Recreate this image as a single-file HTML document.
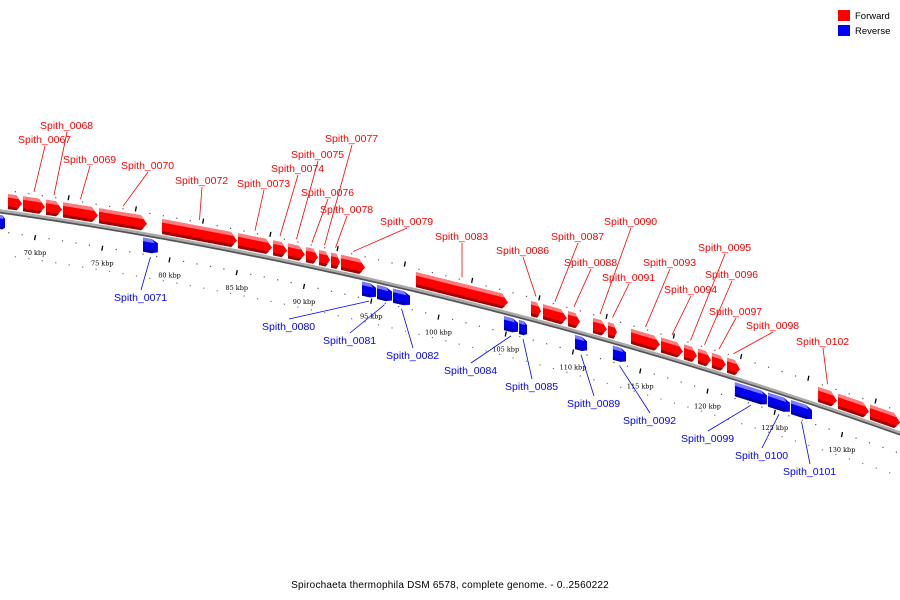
<!DOCTYPE html>
<html><head><meta charset="utf-8"><style>
html,body{margin:0;padding:0;background:#fff;}
svg{display:block;}
text{font-family:"Liberation Sans",sans-serif;}
</style></head><body>
<svg id="map" width="900" height="600" viewBox="0 0 900 600" xmlns="http://www.w3.org/2000/svg">
<g id="backbone-layer"></g>
<g id="ticks-layer"></g>
<g id="genes-layer"></g>
<g id="labels-layer"></g>
<g>
<rect x="838" y="10" width="12" height="11" fill="#ff0000"/>
<text x="855" y="19" font-size="9.5" fill="#000">Forward</text>
<rect x="838" y="25" width="12" height="11" fill="#0000ff"/>
<text x="855" y="34" font-size="9.5" fill="#000">Reverse</text>
</g>
<text x="450" y="588" font-size="10" text-anchor="middle" style="letter-spacing:0.2px">Spirochaeta thermophila DSM 6578, complete genome. - 0..2560222</text>
</svg>
<script>
// gene data (kbp)
const geneNames=["","Spith_0067","Spith_0068","Spith_0069","Spith_0070","Spith_0072","Spith_0073","Spith_0074","Spith_0075","Spith_0076","Spith_0077","Spith_0078","Spith_0079","Spith_0083","Spith_0086","Spith_0087","Spith_0088","Spith_0090","Spith_0091","Spith_0093","Spith_0094","Spith_0095","Spith_0096","Spith_0097","Spith_0098","Spith_0102","",""];
const geneStarts=[67.99,69.11,70.82,72.08,74.76,79.44,85.09,87.70,88.81,90.15,91.12,92.01,92.75,98.33,106.88,107.77,109.63,111.49,112.60,114.31,116.54,118.25,119.29,120.33,121.45,128.22,129.70,132.08];
const geneEnds=[69.03,70.74,72.01,74.68,78.33,85.02,87.62,88.74,90.07,91.04,91.93,92.68,94.54,105.17,107.62,109.55,110.52,112.53,113.27,116.47,118.18,119.22,120.26,121.37,122.42,129.63,132.01,134.32];
const fwdLabelX=[0,18,40,63,121,175,237,271,291,301,325,320,380,435,496,551,564,604,602,643,664,698,705,709,746,796,0,0];
const fwdLabelY=[0,139,125,159,165,180,183,168,154,192,138,209,221,236,250,236,262,221,277,262,289,247,274,311,325,341,0,0];
const revNames=["","Spith_0071","Spith_0080","Spith_0081","Spith_0082","Spith_0084","Spith_0085","Spith_0089","Spith_0092","Spith_0099","Spith_0100","Spith_0101"];
const revStarts=[67.30,78.03,94.31,95.43,96.62,104.87,105.99,110.15,112.97,122.04,124.50,126.21];
const revEnds=[67.77,79.14,95.35,96.54,97.88,105.91,106.58,111.04,113.94,124.42,126.13,127.77];
const revLabelX=[0,114,262,323,386,444,505,567,623,681,735,783];
const revLabelY=[0,297,326,340,355,370,386,403,420,438,455,471];
const tickLabels=[70,75,80,85,90,95,100,105,110,115,120,125,130];

const NS="http://www.w3.org/2000/svg";
function X(k){return 35+(k-70)*13.45;}
function Yb(x){return 210+0.1417*x+0.00011667*x*x;}
function mk(tag,attrs,parent){const e=document.createElementNS(NS,tag);for(const a in attrs)e.setAttribute(a,attrs[a]);parent.appendChild(e);return e;}
const bb=document.getElementById('backbone-layer');
let d1="",d2="";
for(let x=-5;x<=905;x+=5){d1+=(x<0?"M":"L")+x+","+(Yb(x)+0.5).toFixed(2);d2+=(x<0?"M":"L")+x+","+(Yb(x)+2.5).toFixed(2);}
const l2=mk('path',{d:d2,stroke:'#555',"stroke-width":2,fill:'none'},bb);


const l1=mk('path',{d:d1,stroke:'#aaa',"stroke-width":2.5,fill:'none'},bb);



const tk=document.getElementById('ticks-layer');
for(let k=66;k<=135;k++){
  const x=X(k);if(x<-5||x>905)continue;
  const yb=Yb(x);
  if(k%5===0){
    const t=mk('line',{x1:x+0.5,y1:yb+20,x2:x-0.5,y2:yb+25,stroke:'#000',"stroke-width":1.3},tk);
    
    
  } else {
    const t=mk('rect',{x:x,y:yb+21,width:1.2,height:1.2,fill:'#555'},tk);
    
    
  }
  const xa=X(k+0.5),ya=Yb(xa);
  if((k+3)%5===0){
    const t=mk('line',{x1:xa+0.5,y1:ya-25,x2:xa-0.5,y2:ya-20,stroke:'#000',"stroke-width":1.3},tk);
    
    
  } else {
    const t=mk('rect',{x:xa,y:ya-21,width:1.2,height:1.2,fill:'#555'},tk);
    
    
  }
  const xb=X(k+0.5),yb2=Yb(xb);
  const t2=mk('rect',{x:xb,y:yb2+44,width:1.2,height:1.2,fill:'#777'},tk);
  
  
}
tickLabels.forEach(v=>{
  const x=X(v);
  const t=mk('text',{x:x,y:Yb(x)+40,"font-size":6.5,"text-anchor":"middle",fill:'#000',style:"font-family:'DejaVu Serif',serif"},tk);
  t.textContent=v+" kbp";
  
  
});

const gl=document.getElementById('genes-layer');
function pt(x,o){return x.toFixed(1)+","+(Yb(x)+o).toFixed(1);}
function gene(k0,k1,top,bot,main,light,dark,name,dir){
  const x0=X(k0),x1=X(k1);const tip=Math.min(6,(x1-x0)*0.4);const mid=(top+bot)/2;
  const g=mk('g',{},gl);
  
  
  let pts;
  if(dir>0) pts=[pt(x0,top),pt(x1-tip,top),pt(x1,mid),pt(x1-tip,bot),pt(x0,bot)];
  else pts=[pt(x0,top),pt(x1-tip,top),pt(x1,top+3),pt(x1,bot-2),pt(x1-tip,bot),pt(x0,bot)];
  mk('polygon',{points:pts.join(" "),fill:main},g);
  mk('polygon',{points:[pt(x0,top),pt(x1-tip,top),pt(x1-tip*0.55,top+3.5),pt(x0,top+3.5)].join(" "),fill:light},g);
  mk('polygon',{points:[pt(x0,bot-3),pt(x1-tip*0.5,bot-3),pt(x1-tip,bot),pt(x0,bot)].join(" "),fill:dark},g);
}
geneStarts.forEach((s,i)=>gene(s,geneEnds[i],-17,-2,'#f00','#ff7a7a','#a00000','gene-forward-'+(geneNames[i]||i),1));
revStarts.forEach((s,i)=>gene(s,revEnds[i],5,19,'#0000f0','#7a7aff','#0000a0','gene-reverse-'+(revNames[i]||i),-1));

const lb=document.getElementById('labels-layer');
geneNames.forEach((n,i)=>{
  if(!n)return;
  const gx=(X(geneStarts[i])+X(geneEnds[i]))/2;
  const tx=fwdLabelX[i],ty=fwdLabelY[i];
  const lx=tx+27;
  const l=mk('line',{x1:lx,y1:ty+7,x2:gx,y2:Yb(gx)-23,stroke:'#f00',"stroke-width":0.8},lb);
  
  
  const t=mk('text',{x:tx,y:ty+4,"font-size":10.5,fill:'#f00'},lb);
  t.textContent=n;
  
  
});
revNames.forEach((n,i)=>{
  if(!n)return;
  const gx=(X(revStarts[i])+X(revEnds[i]))/2;
  const tx=revLabelX[i],ty=revLabelY[i];
  const lx=tx+27;
  const l=mk('line',{x1:lx,y1:ty-7,x2:gx,y2:Yb(gx)+23,stroke:'#00f',"stroke-width":0.8},lb);
  
  
  const t=mk('text',{x:tx,y:ty+4,"font-size":10.5,fill:'#00f'},lb);
  t.textContent=n;
  
  
});
</script>
</body></html>
